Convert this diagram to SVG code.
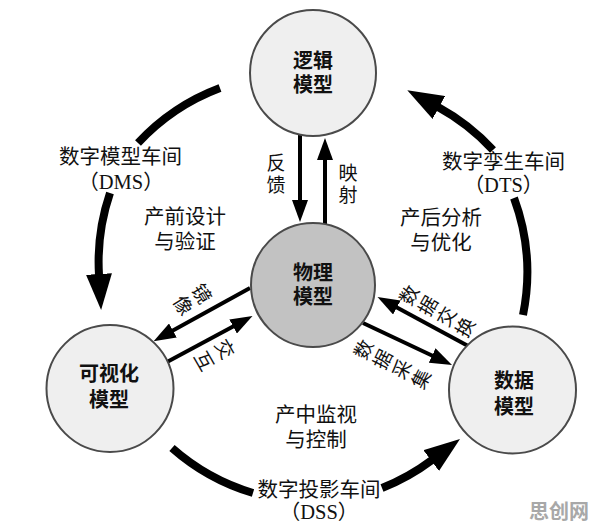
<svg xmlns="http://www.w3.org/2000/svg" width="596" height="530" viewBox="0 0 596 530">
<defs>
<marker id="big" markerUnits="userSpaceOnUse" markerWidth="36" markerHeight="26" viewBox="0 0 36 26" refX="1" refY="13" orient="auto"><path d="M0,0 L36,13 L0,26 z" fill="#000"/></marker>
<marker id="small" markerUnits="userSpaceOnUse" markerWidth="22" markerHeight="16" viewBox="0 0 22 16" refX="1" refY="8" orient="auto"><path d="M0,0 L22,8 L0,16 z" fill="#000"/></marker>
</defs>
<style>
.node{stroke:#4a4a4a;stroke-width:2}
.light{fill:#efefef}
.dark{fill:#c2c2c2}
.nt{font-family:"Liberation Sans","Noto Sans CJK SC",sans-serif;font-size:20px;font-weight:600;text-anchor:middle;fill:#111}
.arc{fill:none;stroke:#000;stroke-width:8}
.thin{fill:none;stroke:#000;stroke-width:4}
.lb{font-family:"Liberation Serif","Noto Sans CJK SC",serif;font-size:20.5px;text-anchor:middle;fill:#111}
.al{font-family:"Liberation Sans","Noto Sans CJK SC",sans-serif;font-size:19px;text-anchor:middle;dominant-baseline:central;fill:#111}
.wm{font-family:"Liberation Sans","Noto Sans CJK SC",sans-serif;font-size:20px;font-weight:700;fill:#a8a8a8;text-anchor:middle}
</style>
<rect width="596" height="530" fill="#fff"/>
<g id="connectors">
<path class="arc" d="M220,88 A215,215 0 0,0 138,143"/>
<path class="arc" d="M110,193 A215,215 0 0,0 99,275" marker-end="url(#big)"/>
<path class="arc" d="M523,315 A215,215 0 0,0 514,198"/>
<path class="arc" d="M493,150 A215,215 0 0,0 438,107" marker-end="url(#big)"/>
<path class="arc" d="M172,448 A215,215 0 0,0 253,493"/>
<path class="arc" d="M382,488 A215,215 0 0,0 432,460" marker-end="url(#big)"/>
<path class="thin" d="M300,135 L300,201" marker-end="url(#small)"/>
<path class="thin" d="M325,225 L325,159" marker-end="url(#small)"/>
<path class="thin" d="M250,288 L172,331" marker-end="url(#small)"/>
<path class="thin" d="M167,362 L234,326" marker-end="url(#small)"/>
<path class="thin" d="M470,347 L396,307" marker-end="url(#small)"/>
<path class="thin" d="M363,323 L433,356" marker-end="url(#small)"/>
</g>
<g id="labels">
<text class="lb"><tspan x="120.5" y="164">数字模型车间</tspan><tspan x="121" y="189">（DMS）</tspan></text>
<text class="lb"><tspan x="185" y="224">产前设计</tspan><tspan x="185" y="249">与验证</tspan></text>
<text class="lb"><tspan x="503.5" y="169">数字孪生车间</tspan><tspan x="503.5" y="192">（DTS）</tspan></text>
<text class="lb"><tspan x="441" y="225">产后分析</tspan><tspan x="441" y="250">与优化</tspan></text>
<text class="lb"><tspan x="316" y="422">产中监视</tspan><tspan x="316" y="447">与控制</tspan></text>
<text class="lb"><tspan x="319" y="497">数字投影车间</tspan><tspan x="319" y="519">（DSS）</tspan></text>
<text class="al"><tspan x="276" y="162.5">反</tspan><tspan x="276" y="184.5">馈</tspan></text>
<text class="al"><tspan x="348" y="173">映</tspan><tspan x="348" y="195">射</tspan></text>
<g transform="translate(192.5,299.5) rotate(58)"><text class="al"><tspan x="0" y="-11">镜</tspan><tspan x="0" y="11">像</tspan></text></g>
<g transform="translate(214.5,355) rotate(60)"><text class="al"><tspan x="0" y="-12">交</tspan><tspan x="0" y="12">互</tspan></text></g>
<g transform="translate(437,311) rotate(-60)"><text class="al"><tspan x="0" y="-32">数</tspan><tspan x="0" y="-10.5">据</tspan><tspan x="0" y="11">交</tspan><tspan x="0" y="32.5">换</tspan></text></g>
<g transform="translate(392,364) rotate(-63)"><text class="al"><tspan x="0" y="-32">数</tspan><tspan x="0" y="-10.5">据</tspan><tspan x="0" y="11">采</tspan><tspan x="0" y="32.5">集</tspan></text></g>
<text class="wm" x="559" y="519">思创网</text>
</g>
<g id="logical"><circle class="node light" cx="313" cy="73" r="63"/><text class="nt"><tspan x="313" y="68">逻辑</tspan><tspan x="313" y="92">模型</tspan></text></g>
<g id="physical"><circle class="node dark" cx="313" cy="285" r="62"/><text class="nt"><tspan x="313" y="280">物理</tspan><tspan x="313" y="304">模型</tspan></text></g>
<g id="visual"><circle class="node light" cx="110" cy="388.5" r="63.5"/><text class="nt"><tspan x="109" y="381">可视化</tspan><tspan x="109" y="407">模型</tspan></text></g>
<g id="data"><circle class="node light" cx="512.5" cy="390" r="63.5"/><text class="nt"><tspan x="514" y="388">数据</tspan><tspan x="514" y="414">模型</tspan></text></g>
</svg>
